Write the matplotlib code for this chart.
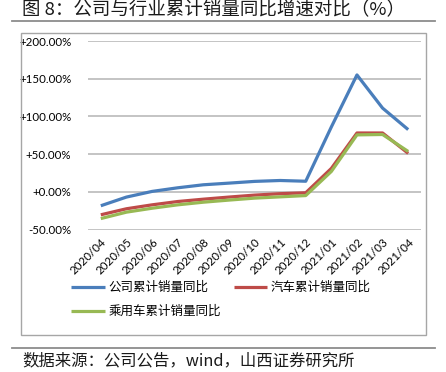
import matplotlib
matplotlib.use("Agg")
import matplotlib.pyplot as plt
from matplotlib.lines import Line2D
from matplotlib.patches import Rectangle
import numpy as np

months = ["2020/04", "2020/05", "2020/06", "2020/07", "2020/08", "2020/09", "2020/10",
          "2020/11", "2020/12", "2021/01", "2021/02", "2021/03", "2021/04"]
company = [-18.5, -7, 0.5, 5.3, 9.3, 11.5, 13.8, 15, 14, 86, 155, 111, 82.5]
auto = [-30.5, -22.5, -17.3, -12.9, -9.8, -7, -4.4, -2.5, -1.3, 31, 78, 78, 51]
passenger = [-35.5, -27, -21.8, -17.3, -13.8, -11, -8.4, -6.7, -5, 27, 75.5, 76, 53.5]
series_names = ["公司累计销量同比", "汽车累计销量同比", "乘用车累计销量同比"]
yticks = [-50, 0, 50, 100, 150, 200]

colors = ["#4A7EBB", "#BE4B48", "#98B954"]
cjk = ["Noto Sans CJK SC", "DejaVu Sans"]

fig = plt.figure(figsize=(4.46, 3.72), dpi=100)
W, H = 446, 372

def fx(px):
    return px / W

def fy(py):
    return 1 - py / H

# outer chart frame
fig.add_artist(Rectangle((fx(21), fy(335)), fx(426) - fx(21), fy(33) - fy(335),
                         transform=fig.transFigure, fill=False, edgecolor="#A6A6A6", lw=1.0))
# title rule and source rule
for yy in (21, 348):
    fig.add_artist(Line2D([fx(12), fx(435)], [fy(yy), fy(yy)], transform=fig.transFigure,
                          color="#8C8C8C", lw=1.3))

fig.text(fx(22), fy(10), "图 8：公司与行业累计销量同比增速对比（%）", family=cjk,
         fontsize=13.3, va="center", ha="left", color="#1a1a1a")
fig.text(fx(22), fy(361), "数据来源：公司公告，wind，山西证券研究所", family=cjk,
         fontsize=11.8, va="center", ha="left", color="#1a1a1a")

ax = fig.add_axes([fx(88), fy(229.5), fx(421) - fx(88), fy(41) - fy(229.5)])
x = np.arange(len(months))
for vals, c, name in zip([company, auto, passenger], colors, series_names):
    ax.plot(x, vals, color=c, lw=2.3, label=name, solid_capstyle="butt")

ax.set_xlim(-0.5, len(months) - 0.5)
ax.set_ylim(-50, 200)
ax.set_yticks(yticks)
ax.set_yticklabels([f"{v:+.2f}%" if v != 0 else "+0.00%" for v in yticks],
                   family="Lato", fontsize=8.3)
ax.set_xticks(x)
ax.set_xticklabels(months, rotation=45, ha="right", rotation_mode="anchor",
                   family="Lato", fontsize=8.3)
ax.tick_params(length=0, pad=12, axis="y")
ax.tick_params(length=0, pad=5, axis="x")
ax.yaxis.grid(True, color="#B4B4B4", lw=1.1)
ax.set_axisbelow(True)
for s in ax.spines.values():
    s.set_visible(False)

# legend fills column-first: order so row 1 = company, auto; row 2 = passenger
handles, labels = ax.get_legend_handles_labels()
order = [0, 2, 1]
fig.legend([handles[i] for i in order], [labels[i] for i in order], ncol=2,
           loc="upper left", bbox_to_anchor=(fx(71), fy(281)),
           frameon=False, prop={"family": cjk, "size": 9}, handlelength=2.7,
           handletextpad=0.3, columnspacing=1.0, labelspacing=0.9, borderaxespad=0,
           borderpad=0)

fig.savefig("out.png", dpi=100)
